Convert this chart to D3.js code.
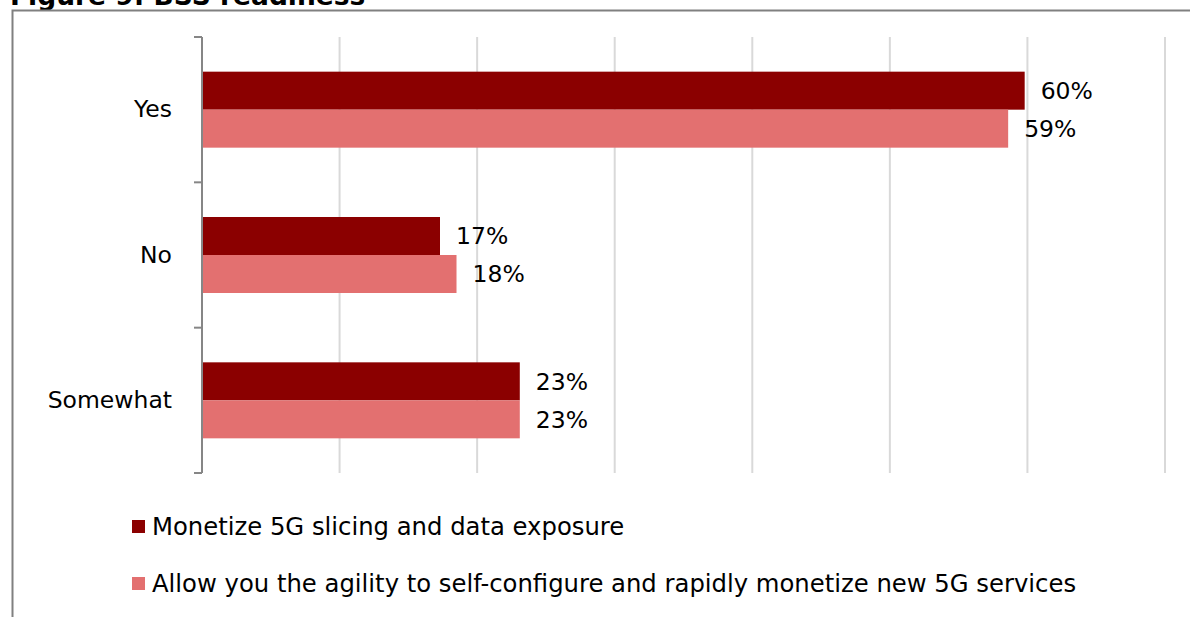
<!DOCTYPE html>
<html>
<head>
<meta charset="utf-8">
<script src="https://cdn.jsdelivr.net/npm/d3@7"></script>
<style>
  body { margin: 0; background: #fff; }
  text { font-family: Verdana, "DejaVu Sans", sans-serif; fill: #000; }
</style>
</head>
<body>
<script>
// categories and series (percent)
const categories = ["Yes", "No", "Somewhat"];
const seriesNames = [
  "Monetize 5G slicing and data exposure",
  "Allow you the agility to self-configure and rapidly monetize new 5G services"
];
const monetizeVals = [59.8, 17.3, 23.1];
const agilityVals = [58.6, 18.5, 23.1];
const monetizeLabels = ["60%", "17%", "23%"];
const agilityLabels = ["59%", "18%", "23%"];
const xTicks = [0, 10, 20, 30, 40, 50, 60, 70];
const colors = ["#8b0000", "#e37070"];

const width = 1190, height = 617;
const margin = { left: 202, right: 25, top: 37, bottom: 144 };
const chartW = width - margin.left - margin.right;
const chartH = height - margin.top - margin.bottom;

const svg = d3.select("body").append("svg")
  .attr("width", width)
  .attr("height", height);

// title (cut off at top like the source) and frame
svg.append("text")
  .attr("x", 10).attr("y", 5)
  .style("font-size", "26.5px").style("font-weight", "bold")
  .text("Figure 9: BSS readiness");
svg.append("path")
  .attr("d", `M12.5,${height} V10.5 H${width}`)
  .attr("fill", "none").attr("stroke", "#808080").attr("stroke-width", 2);

const g = svg.append("g").attr("transform", `translate(${margin.left},${margin.top})`);

const x = d3.scaleLinear().domain([0, 70]).range([0, chartW]);
const y = d3.scaleBand().domain(categories).range([0, chartH]);
const inner = d3.scaleBand().domain([0, 1]).range([0, 76]);

// gridlines
g.selectAll("line.grid")
  .data(xTicks.slice(1))
  .enter().append("line")
  .attr("class", "grid")
  .attr("x1", d => x(d)).attr("x2", d => x(d))
  .attr("y1", 0).attr("y2", chartH)
  .attr("stroke", "#d9d9d9").attr("stroke-width", 2);

// bars
const rows = categories.map((c, i) => ({
  cat: c,
  vals: [monetizeVals[i], agilityVals[i]],
  labels: [monetizeLabels[i], agilityLabels[i]]
}));

const grp = g.selectAll("g.cat")
  .data(rows)
  .enter().append("g")
  .attr("class", "cat")
  .attr("transform", d => `translate(0,${y(d.cat) + y.bandwidth() / 2 - 38})`);

grp.selectAll("rect")
  .data(d => d.vals)
  .enter().append("rect")
  .attr("x", 0)
  .attr("y", (d, i) => inner(i))
  .attr("width", d => x(d))
  .attr("height", inner.bandwidth())
  .attr("fill", (d, i) => colors[i]);

grp.selectAll("text")
  .data(d => d.vals.map((v, i) => ({ v, label: d.labels[i], i })))
  .enter().append("text")
  .attr("x", d => x(d.v) + 16)
  .attr("y", d => inner(d.i) + inner.bandwidth() / 2)
  .attr("dy", "0.35em")
  .style("font-size", "23.5px")
  .text(d => d.label);

// category axis
const yAxis = g.append("g")
  .call(d3.axisLeft(y).tickSize(0).tickPadding(30));
yAxis.select(".domain").remove();
yAxis.selectAll("text")
  .style("font-size", "23.5px")
  .attr("font-family", null);

const boundaries = [0].concat(categories.map(c => y(c) + y.bandwidth()));
g.selectAll("line.tick")
  .data(boundaries)
  .enter().append("line")
  .attr("x1", -8).attr("x2", 0)
  .attr("y1", d => d).attr("y2", d => d)
  .attr("stroke", "#868686").attr("stroke-width", 2);
g.append("line")
  .attr("x1", 0).attr("x2", 0).attr("y1", 0).attr("y2", chartH)
  .attr("stroke", "#868686").attr("stroke-width", 2);

// legend
const legend = svg.selectAll("g.legend")
  .data(seriesNames)
  .enter().append("g")
  .attr("class", "legend")
  .attr("transform", (d, i) => `translate(132,${520 + i * 57})`);
legend.append("rect")
  .attr("width", 13).attr("height", 13)
  .attr("fill", (d, i) => colors[i]);
legend.append("text")
  .attr("x", 20).attr("y", 15)
  .style("font-size", "24.3px")
  .text(d => d);
</script>
</body>
</html>
